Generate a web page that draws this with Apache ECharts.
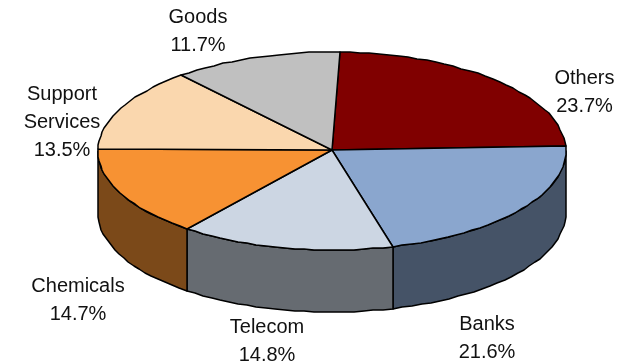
<!DOCTYPE html>
<html>
<head>
<meta charset="utf-8">
<style>html,body{margin:0;padding:0;background:#fff}#chart{width:630px;height:361px}</style>
<script src="https://cdn.jsdelivr.net/npm/echarts@6/dist/echarts.min.js"></script>
</head>
<body>
<div id="chart"></div>
<script>
// Sector shares, in percent, clockwise from the top of the pie
const sectors = ['Others', 'Banks', 'Telecom', 'Chemicals', 'Support\nServices', 'Goods'];
const shares = [23.7, 21.6, 14.8, 14.7, 13.5, 11.7];
const topColors = ['#800000', '#8AA6CE', '#CCD6E3', '#F79233', '#FAD7AE', '#C0C0C0'];
const wallColors = ['#400000', '#455367', '#666B71', '#7B4919', '#7D6C57', '#606060'];

// Where each two- or three-line label is centred
const labelAnchors = [[584.5, 92], [487, 338], [267, 341], [78, 300.5], [62, 122], [198, 31]];

// Tilted disc geometry; the apex sits a little above the rim's centre
const disc = { cx: 332, cy: 151, apexY: 150, rx: 234, ry: 99, depth: 62, startDeg: 1.9 };

const total = shares.reduce((a, b) => a + b, 0);
const rimPoint = (deg, drop) => {
  const t = deg * Math.PI / 180;
  return [
    Math.round(disc.cx + disc.rx * Math.sin(t)),
    Math.round(disc.cy - disc.ry * Math.cos(t) + drop)
  ];
};
const arc = (from, to, drop) => {
  const n = Math.max(2, Math.ceil((to - from) / 2.5));
  const pts = [];
  for (let i = 0; i <= n; i++) pts.push(rimPoint(from + (to - from) * i / n, drop));
  return pts;
};

function renderSlice(params, api) {
  const i = params.dataIndex;
  const value = api.value(0);
  const before = shares.slice(0, i).reduce((a, b) => a + b, 0);
  const from = disc.startDeg + before / total * 360;
  const to = from + value / total * 360;
  const stroke = { stroke: '#000', lineWidth: 1.5, lineJoin: 'round' };
  const children = [];

  // Only the near half of the rim (90 to 270 degrees) shows a wall
  const wallFrom = Math.max(from, 90);
  const wallTo = Math.min(to, 270);
  if (wallTo > wallFrom) {
    children.push({
      type: 'polygon',
      shape: { points: arc(wallFrom, wallTo, 0).concat(arc(wallFrom, wallTo, disc.depth).reverse()) },
      style: Object.assign({ fill: wallColors[i] }, stroke)
    });
  }
  children.push({
    type: 'polygon',
    shape: { points: [[disc.cx, disc.apexY]].concat(arc(from, to, 0)) },
    style: Object.assign({ fill: topColors[i] }, stroke)
  });
  children.push({
    type: 'text',
    z2: 10,
    style: {
      x: labelAnchors[i][0],
      y: labelAnchors[i][1],
      text: sectors[i] + '\n' + value.toFixed(1) + '%',
      align: 'center',
      verticalAlign: 'middle',
      fontFamily: '"Liberation Sans", Arial, sans-serif',
      fontSize: 20,
      lineHeight: 28,
      fill: '#111'
    }
  });
  return { type: 'group', children };
}

const chart = echarts.init(document.getElementById('chart'), null, { renderer: 'canvas' });
chart.setOption({
  animation: false,
  backgroundColor: '#fff',
  series: [{
    type: 'custom',
    coordinateSystem: 'none',
    renderItem: renderSlice,
    data: shares.map(v => [v])
  }]
});
</script>
</body>
</html>
